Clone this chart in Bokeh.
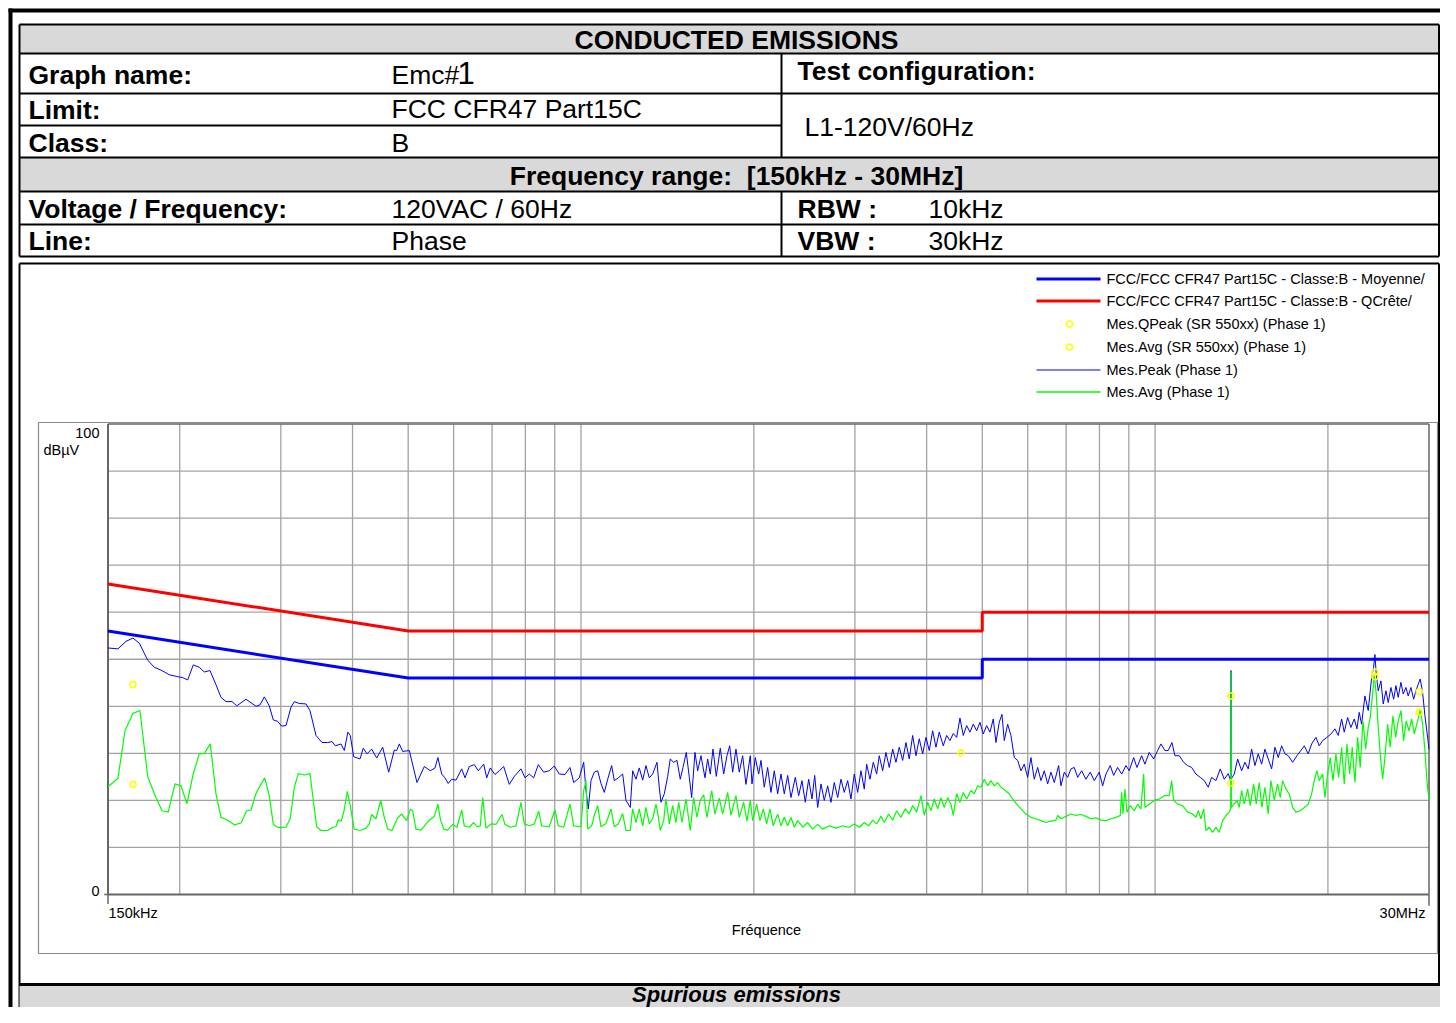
import math
from bokeh.plotting import figure
from bokeh.models import Range1d, LogScale
from bokeh.core.properties import value
from bokeh.embed import file_html
from bokeh.resources import INLINE

# ------------------------------------------------------------------ data
f_min, f_max = 0.15, 30.0          # MHz
db_min, db_max = 0, 100            # dBuV
grid_freq = [0.2, 0.3, 0.4, 0.5, 0.6, 0.7, 0.8, 0.9, 1, 2, 3, 4, 5, 6, 7, 8, 9, 10, 20]
grid_level = [10, 20, 30, 40, 50, 60, 70, 80, 90]

limit_freq = [0.15, 0.5, 5.0, 5.0, 30.0]
limit_qpeak = [66, 56, 56, 60, 60]
limit_avg = [56, 46, 46, 50, 50]

peak_freq = [
    0.1500, 0.1561, 0.1612, 0.1658, 0.1701, 0.1759, 0.1806, 0.1855, 0.1918, 0.1984,
    0.2024, 0.2065, 0.2112, 0.2163, 0.2207, 0.2258, 0.2313, 0.2360, 0.2408, 0.2467,
    0.2514, 0.2609, 0.2716, 0.2760, 0.2808, 0.2864, 0.2911, 0.2962, 0.3010, 0.3063,
    0.3125, 0.3167, 0.3231, 0.3319, 0.3372, 0.3455, 0.3539, 0.3621, 0.3684, 0.3733,
    0.3819, 0.3870, 0.3926, 0.3964, 0.4018, 0.4121, 0.4176, 0.4239, 0.4319, 0.4407,
    0.4514, 0.4624, 0.4729, 0.4775, 0.4825, 0.4891, 0.5022, 0.5180, 0.5334,
    0.5464, 0.5568, 0.5633, 0.5719, 0.5795, 0.5870, 0.5953, 0.6057, 0.6197, 0.6280,
    0.6389, 0.6518, 0.6624, 0.6769, 0.6851, 0.6950, 0.7082, 0.7205, 0.7334, 0.7500,
    0.7653, 0.7861, 0.7988, 0.8127, 0.8271, 0.8426, 0.8610, 0.8805, 0.8984, 0.9166,
    0.9378, 0.9568, 0.9711, 0.9931, 1.0108, 1.0202, 1.0296, 1.0409, 1.0548, 1.0692,
    1.0834, 1.0980, 1.1130, 1.1309, 1.1429, 1.1613, 1.1819, 1.1977, 1.2185, 1.2303,
    1.2467, 1.2633, 1.2807, 1.2977, 1.3150, 1.3331, 1.3563, 1.3688, 1.3782, 1.3967,
    1.4158, 1.4306, 1.4502, 1.4695, 1.4891, 1.5053, 1.5255, 1.5439, 1.5587, 1.5796,
    1.5968, 1.6180, 1.6442, 1.6621, 1.6796, 1.6978, 1.7205, 1.7483, 1.7722, 1.7959,
    1.8154, 1.8374, 1.8618, 1.8866, 1.9125, 1.9380, 1.9718,
    1.9853, 2.0117, 2.0393, 2.0582, 2.0857, 2.1140, 2.1425, 2.1711, 2.2008, 2.2301,
    2.2600, 2.2909, 2.3214, 2.3618, 2.3942, 2.4261, 2.4584, 2.4922, 2.5254, 2.5529,
    2.5838, 2.6182, 2.6532, 2.6895, 2.7253, 2.7618, 2.7996, 2.8368, 2.8748, 2.9141,
    2.9529, 2.9924, 3.0334, 3.0738, 3.1149, 3.1449, 3.1867, 3.2293, 3.2736, 3.3078,
    3.3532, 3.3980, 3.4431, 3.4904, 3.5370, 3.5841, 3.6333, 3.6818, 3.7307, 3.7820,
    3.8324, 3.8834, 3.9367, 3.9892, 4.0423, 4.0978, 4.1525, 4.2078, 4.2759, 4.3346,
    4.3923, 4.4509, 4.5120, 4.5720, 4.6330, 4.6966, 4.7591, 4.8226, 4.8889, 4.9538,
    5.0197, 5.0890, 5.1565, 5.2254, 5.2823, 5.3525, 5.4108, 5.4613, 5.5360, 5.6097,
    5.6847, 5.7625, 5.8392, 5.9173, 5.9983, 6.0782, 6.1595, 6.2437, 6.3269, 6.4115,
    6.4992, 6.5857, 6.6739, 6.7923, 6.8552, 6.9470, 7.0420, 7.1358,
    7.2313, 7.3302, 7.4485, 7.5783, 7.7104, 7.8352, 7.9933, 8.1030, 8.2111, 8.3542,
    8.4684, 8.6057, 8.7444, 8.8970, 9.0153, 9.1760, 9.2983, 9.4747, 9.6014, 9.7682,
    9.9423, 10.103, 10.238, 10.403, 10.542, 10.699, 10.829, 11.017, 11.213, 11.395,
    11.579, 11.780, 11.986, 12.180, 12.376, 12.546, 12.764, 12.987, 13.197, 13.410,
    13.54, 13.56, 13.58, 13.737, 13.925, 14.150, 14.339, 14.530, 14.729, 14.926, 15.124,
    15.331, 15.536, 15.743, 15.959, 16.172, 16.387, 16.612, 16.834, 17.058, 17.362,
    17.664, 17.949, 18.190, 18.483, 18.736, 19.062, 19.316, 19.581, 19.922, 20.244,
    20.572, 20.846, 21.131, 21.355, 21.647, 21.935, 22.229, 22.469, 22.677, 22.896,
    23.202, 23.511, 23.833, 24.025, 24.152, 24.278, 24.473, 24.739, 24.970, 25.241,
    25.475, 25.752, 26.033, 26.274, 26.517, 26.806, 27.055, 27.349, 27.602, 27.903,
    28.206, 28.468, 28.731, 28.963, 29.242, 29.514, 29.836, 30.0,
]
peak_level = [
    52.4, 52.2, 53.8, 54.5, 53.4, 49.8, 48.3, 47.7, 46.7, 46.3,
    46.1, 45.6, 48.8, 48.3, 47.3, 47.6, 44.6, 41.9, 41.0, 41.0,
    40.1, 41.5, 40.0, 40.3, 42.0, 40.1, 37.1, 36.8, 35.8, 35.9,
    39.8, 41.0, 40.6, 40.5, 39.1, 33.8, 32.3, 32.3, 32.5, 31.6,
    32.0, 30.6, 34.5, 33.8, 29.3, 28.8, 31.1, 29.9, 30.9, 29.0,
    31.3, 26.0, 30.7, 30.6, 32.0, 30.4, 30.6, 23.8, 27.2,
    26.3, 26.9, 29.1, 25.6, 24.8, 23.6, 24.5, 24.3, 26.7, 24.8,
    27.2, 27.6, 26.3, 27.7, 24.8, 26.9, 25.5, 26.3, 27.2, 23.4,
    25.1, 26.7, 24.8, 25.6, 24.8, 27.6, 26.0, 26.3, 27.3, 25.6,
    25.5, 27.0, 23.8, 24.8, 28.1, 22.1, 18.2, 24.2, 26.0, 26.3,
    23.6, 21.7, 24.5, 27.4, 24.2, 24.8, 25.6, 20.0, 18.5, 26.3,
    24.5, 26.9, 24.3, 27.4, 24.8, 25.6, 28.1, 22.8, 19.6, 21.4,
    25.1, 28.8, 28.1, 28.5, 24.5, 27.0, 30.2, 24.9, 20.6, 30.2,
    26.3, 29.5, 24.8, 28.8, 25.6, 30.9, 25.1, 31.1, 25.6, 29.5,
    31.6, 26.0, 30.9, 26.0, 29.5, 23.4, 29.5,
    23.5, 29.1, 25.6, 28.5, 22.8, 27.0, 21.7, 26.3, 21.4, 25.6,
    21.4, 25.3, 20.6, 24.9, 21.0, 24.2, 19.6, 24.5, 20.3, 25.3,
    18.5, 23.5, 20.0, 23.1, 19.6, 23.8, 20.6, 24.5, 21.7, 24.2,
    20.3, 25.6, 21.7, 26.3, 22.4, 27.7, 24.5, 28.1, 25.6, 29.5,
    26.3, 30.2, 27.0, 30.9, 28.1, 31.3, 28.5, 32.3, 28.8, 33.8,
    29.5, 33.1, 29.9, 33.4, 30.6, 34.8, 31.3, 34.5, 31.6, 33.8,
    32.7, 34.2, 33.4, 37.5, 33.8, 35.9, 34.5, 36.2, 34.8, 36.6,
    34.1, 35.9, 34.5, 37.3, 32.3, 36.6, 38.3, 32.7, 36.2, 33.8,
    29.1, 28.5, 26.3, 27.7, 24.9, 29.1, 24.5, 27.0, 24.2, 26.3,
    23.5, 26.0, 23.8, 27.4, 23.1, 26.0, 24.9, 26.7,
    27.0, 24.9, 26.3, 24.5, 26.0, 24.2, 26.0, 23.1, 25.6, 27.4,
    25.3, 27.0, 25.6, 27.4, 26.3, 29.1, 27.0, 29.5, 27.7, 30.2,
    28.8, 30.6, 32.0, 30.6, 30.6, 32.3, 29.5, 29.5, 28.1, 27.4,
    27.0, 25.6, 24.9, 24.2, 22.8, 24.9, 24.2, 26.7, 24.5, 25.7,
    24.2, 47.6, 24.6, 25.6, 28.8, 26.3, 28.1, 26.7, 30.9, 27.4, 29.9,
    27.7, 30.9, 28.8, 26.7, 31.3, 29.1, 31.6, 29.9, 29.5, 28.1,
    29.5, 30.6, 31.6, 29.9, 32.0, 33.4, 31.6, 32.7, 33.4, 34.1,
    35.2, 33.8, 37.3, 34.5, 37.6, 35.5, 37.3, 35.2, 38.7, 36.2,
    42.2, 39.1, 46.1, 48.3, 51.0, 46.8, 43.3, 45.4, 40.5, 43.3,
    40.8, 44.0, 41.5, 44.4, 41.9, 45.1, 42.6, 44.0, 42.2, 44.0,
    41.5, 43.3, 44.7, 45.8, 42.9, 38.0, 33.4, 30.9,
]

avg_freq = [
    0.1500, 0.1561, 0.1606, 0.1658, 0.1705, 0.1759, 0.1806, 0.1863, 0.1910, 0.1962,
    0.2010, 0.2059, 0.2112, 0.2163, 0.2207, 0.2261, 0.2313, 0.2360, 0.2415, 0.2490,
    0.2557, 0.2616, 0.2662, 0.2716, 0.2812, 0.2864, 0.2911, 0.2975, 0.3063, 0.3116,
    0.3167, 0.3218, 0.3296, 0.3372, 0.3464, 0.3525, 0.3621, 0.3694, 0.3743, 0.3778,
    0.3823, 0.3865, 0.3917, 0.3959, 0.4028, 0.4121, 0.4222, 0.4278, 0.4319, 0.4394,
    0.4478, 0.4543, 0.4606, 0.4686, 0.4794, 0.4871, 0.4970, 0.5043, 0.5091, 0.5159,
    0.5264, 0.5370, 0.5479, 0.5552, 0.5633, 0.5687, 0.5765, 0.5859, 0.5977, 0.6081,
    0.6197, 0.6262, 0.6389, 0.6502, 0.6589, 0.6677, 0.6741, 0.6831, 0.6970, 0.7111,
    0.7284, 0.7372, 0.7531, 0.7705, 0.7861, 0.7966, 0.8127, 0.8292, 0.8439, 0.8541,
    0.8805, 0.9009, 0.9129, 0.9329, 0.9568, 0.9711, 1.0000, 1.0108, 1.0202, 1.0272,
    1.0437, 1.0548, 1.0692, 1.0834, 1.1054, 1.1278, 1.1429, 1.1613, 1.1819, 1.1977,
    1.2185, 1.2303, 1.2467, 1.2633, 1.2807, 1.2977, 1.3150, 1.3331, 1.3509, 1.3634,
    1.3743, 1.3932, 1.4061, 1.4249, 1.4444, 1.4636, 1.4796, 1.4993, 1.5235, 1.5501,
    1.5713, 1.5923, 1.6134, 1.6357, 1.6574, 1.6889, 1.7115, 1.7412, 1.7651, 1.8009,
    1.8249, 1.8618, 1.8866, 1.9203, 1.9458, 1.9718, 1.9908, 2.0231, 2.0500, 2.0774,
    2.1058, 2.1339, 2.1623, 2.2008, 2.2301, 2.2600, 2.2909, 2.3214, 2.3524, 2.3845,
    2.4330, 2.4822, 2.5324, 2.5838, 2.6361, 2.7068, 2.7805, 2.8562, 2.9328, 2.9924,
    3.0529, 3.1149, 3.1702, 3.2214, 3.2736, 3.3305, 3.3750, 3.4349, 3.4904, 3.5470,
    3.6086, 3.6714, 3.7307, 3.7820, 3.8432, 3.9100, 3.9623, 4.0165, 4.0700, 4.1245,
    4.1809, 4.2366, 4.2932, 4.3520, 4.4099, 4.4509, 4.5120, 4.5720, 4.6330, 4.6966,
    4.7782, 4.8422, 4.9084, 4.9737, 5.0403, 5.1092, 5.1773, 5.2465, 5.3183, 5.3891,
    5.4828, 5.5715, 5.6479, 5.7394, 5.8392, 5.9576, 6.0782, 6.2013, 6.3269, 6.4550,
    6.5857, 6.7192, 6.7654, 6.8552, 6.9942, 7.1358, 7.2804, 7.4278, 7.5783, 7.7318,
    7.8884, 8.0481, 8.2111, 8.3775, 8.5473, 8.6957, 8.7444, 8.7905, 8.8615, 8.9327,
    9.0520, 9.1986, 9.3244, 9.4487, 9.5513, 9.6014, 9.7682, 9.9668, 10.168, 10.375,
    10.584, 10.686, 10.772, 10.947, 11.168, 11.395, 11.625, 11.780, 11.890, 12.019,
    12.150, 12.263, 12.426, 12.596, 12.764, 12.934, 13.112, 13.287, 13.463, 13.54,
    13.56, 13.58, 13.886, 14.014, 14.150, 14.299, 14.495, 14.647, 14.848, 15.004,
    15.185, 15.350, 15.536, 15.743, 15.915, 16.127, 16.344, 16.520, 16.679, 16.902,
    17.126, 17.362, 17.593, 17.900, 18.190, 18.483, 18.736, 18.934, 19.139, 19.316,
    19.581, 19.763, 19.976, 20.188, 20.408, 20.654, 20.879, 21.131, 21.355, 21.586,
    21.820, 22.050, 22.290, 22.533, 22.769, 23.017, 23.267, 23.511, 23.700, 23.891,
    24.085, 24.278, 24.473, 24.671, 24.908, 25.140, 25.413, 25.681, 25.959, 26.242,
    26.517, 26.806, 27.098, 27.382, 27.680, 27.980, 28.276, 28.663, 28.963, 29.242,
    29.514, 29.752, 30.0,
]
avg_level = [
    22.9, 24.7, 34.8, 38.5, 39.1, 25.1, 21.4, 17.8, 17.5, 23.5,
    23.1, 19.3, 25.7, 29.9, 30.0, 32.0, 21.4, 16.4, 15.9, 14.8,
    15.2, 17.8, 18.0, 21.5, 24.8, 21.0, 14.9, 14.2, 14.3, 16.2,
    22.8, 25.7, 25.4, 25.7, 14.4, 13.6, 13.6, 14.3, 14.4, 15.9,
    15.6, 17.7, 21.9, 19.2, 13.9, 13.6, 14.1, 15.0, 17.0, 16.1,
    20.0, 16.4, 13.9, 13.6, 16.3, 17.1, 15.7, 18.1, 17.8, 13.9,
    13.7, 15.0, 16.1, 16.6, 19.2, 16.1, 13.9, 13.7, 14.9, 14.3,
    18.0, 14.6, 14.3, 15.3, 14.4, 14.6, 20.6, 14.1, 15.0, 14.9,
    17.0, 14.9, 14.3, 14.6, 19.6, 15.0, 14.6, 15.0, 17.7, 14.6,
    14.4, 18.0, 14.6, 14.3, 19.2, 14.6, 14.4, 22.1, 24.2, 13.9,
    14.6, 16.8, 18.9, 14.4, 15.1, 18.2, 14.4, 15.0, 17.2, 13.6,
    13.6, 18.2, 15.3, 18.2, 14.6, 18.5, 15.0, 16.1, 19.2, 16.6,
    13.6, 15.7, 20.3, 15.0, 18.9, 15.3, 19.6, 15.3, 20.3, 13.6,
    20.6, 16.4, 20.0, 21.2, 16.4, 22.1, 17.1, 20.5, 17.1, 21.7,
    16.8, 21.0, 16.4, 19.6, 15.6, 20.0, 15.7, 19.2, 15.7, 18.2,
    15.0, 18.2, 14.6, 17.1, 14.6, 16.4, 14.6, 16.4, 14.3, 15.7,
    14.3, 15.3, 13.9, 14.9, 13.9, 14.6, 14.1, 14.6, 14.3, 15.0,
    14.3, 15.3, 14.6, 15.8, 15.0, 16.6, 15.3, 17.1, 15.8, 17.8,
    16.4, 18.2, 17.1, 18.9, 17.5, 21.0, 16.8, 19.6, 17.8, 20.3,
    18.2, 20.6, 18.5, 20.6, 19.2, 16.8, 21.4, 19.6, 21.7, 20.3,
    22.1, 21.4, 23.1, 22.8, 24.5, 23.1, 24.2, 23.1, 23.8, 22.8,
    22.1, 21.4, 20.3, 19.2, 18.2, 17.1, 16.4, 16.1, 15.7, 15.3,
    15.6, 15.8, 16.8, 16.1, 16.6, 17.1, 16.8, 17.0, 16.6, 16.1,
    16.3, 15.8, 15.7, 16.1, 16.4, 16.8, 21.7, 17.1, 22.4, 17.5,
    18.9, 17.8, 19.2, 18.2, 25.6, 18.5, 19.2, 20.0, 20.3, 21.0,
    21.0, 24.2, 20.0, 19.2, 18.9, 17.5, 17.1, 16.4, 17.8, 16.1,
    18.2, 13.6, 14.3, 13.2, 14.3, 13.2, 15.7, 16.8, 17.5, 18.2,
    47.4, 18.5, 20.0, 18.5, 22.1, 19.2, 22.4, 18.9, 23.5, 19.2,
    23.8, 18.5, 22.8, 17.1, 24.2, 20.0, 23.5, 20.6, 24.2, 22.4,
    21.4, 18.5, 17.5, 17.8, 18.5, 19.2, 21.4, 24.2, 26.3, 24.2,
    25.6, 20.6, 25.6, 29.1, 24.2, 29.9, 24.9, 31.3, 23.5, 32.0,
    25.6, 31.3, 23.8, 33.4, 27.0, 36.9, 30.9, 35.5, 37.6, 41.9,
    46.8, 42.6, 35.5, 29.9, 24.5, 29.1, 36.2, 31.3, 38.0, 33.4,
    36.9, 39.1, 32.7, 36.9, 34.8, 37.3, 34.1, 36.9, 39.4, 36.2,
    30.6, 24.2, 20.0,
]

qpeak_freq = [0.1658, 4.590, 13.56, 24.15, 28.85]
qpeak_level = [44.6, 30.1, 42.2, 47.3, 43.1]
mavg_freq = [0.1658, 13.56, 24.15, 28.85]
mavg_level = [23.4, 23.7, 46.3, 38.7]

legend_labels = [
    "FCC/FCC CFR47 Part15C - Classe:B - Moyenne/",
    "FCC/FCC CFR47 Part15C - Classe:B - QCrête/",
    "Mes.QPeak (SR 550xx) (Phase 1)",
    "Mes.Avg (SR 550xx) (Phase 1)",
    "Mes.Peak (Phase 1)",
    "Mes.Avg (Phase 1)",
]

assert len(peak_freq) == len(peak_level), (len(peak_freq), len(peak_level))
assert len(avg_freq) == len(avg_level), (len(avg_freq), len(avg_level))

# ------------------------------------------------------------------ layout
W, H = 1440, 1007
PX_L, PX_R = 107.5, 1428.5         # chart frame, pixels
PY_T, PY_B = 423.5, 894.0
px_dec = (PX_R - PX_L) / math.log10(f_max / f_min)
px_db = (PY_B - PY_T) / (db_max - db_min)

FONT = value("Liberation Sans")
BLUE, RED, GREEN, YEL = "#0000ff", "#ff0000", "#00ff00", "#ffff00"

p = figure(width=W, height=H, output_backend="svg", toolbar_location=None,
           x_range=Range1d(0, W), y_range=Range1d(H, 0),
           x_axis_location=None, y_axis_location=None, min_border=0, title=None)
p.extra_x_ranges = {"f": Range1d(f_min * 10 ** ((0 - PX_L) / px_dec),
                                 f_min * 10 ** ((W - PX_L) / px_dec))}
p.extra_x_scales = {"f": LogScale()}
p.extra_y_ranges = {"db": Range1d((PY_B - H) / px_db, PY_B / px_db)}
p.outline_line_color = None
p.grid.visible = False
p.background_fill_color = "white"
p.border_fill_color = "white"

CH = dict(x_range_name="f", y_range_name="db")


def box(l, r, t, b, color):
    p.quad(left=[l], right=[r], top=[t], bottom=[b], fill_color=color, line_color=None)


def seg(x0, y0, x1, y1, color="black", w=2.0):
    p.segment(x0=[x0], y0=[y0], x1=[x1], y1=[y1], line_color=color, line_width=w)


def txt(s, x, y, size, style="normal", align="left", color="black"):
    p.text(x=[x], y=[y], text=[s], text_font=FONT, text_font_size=size,
           text_font_style=style, text_align=align, text_baseline="middle",
           text_color=color)


# ---- outer frame
seg(8, 10, W, 10, "black", 4)
seg(10, 8, 10, H, "black", 4)

# ---- header table
TL, TR, CM = 19, 1438.5, 781
GRAY = "#d9d9d9"
box(TL, TR, 24, 53, GRAY)
box(TL, TR, 157, 191, GRAY)
for yy in (24, 53, 93, 157, 191, 224, 256):
    seg(TL, yy, TR, yy)
seg(TL, 125, CM, 125)
seg(TL, 24, TL, 256)
seg(TR, 24, TR, 256)
seg(CM, 53, CM, 157)
seg(CM, 191, CM, 256)

TS = "26.5px"
txt("CONDUCTED EMISSIONS", 736, 39, TS, "bold", "center")
txt("Graph name:", 28, 74, TS, "bold")
txt("Emc#", 391, 74, TS)
txt("1", 457, 72, "31px")
txt("Limit:", 28, 109, TS, "bold")
txt("FCC CFR47 Part15C", 391, 108, TS)
txt("Class:", 28, 142, TS, "bold")
txt("B", 391, 142, TS)
txt("Test configuration:", 797, 70, TS, "bold")
txt("L1-120V/60Hz", 804, 126, TS)
txt("Frequency range:\u00a0 [150kHz - 30MHz]", 736, 175, TS, "bold", "center")
txt("Voltage / Frequency:", 28, 208, TS, "bold")
txt("120VAC / 60Hz", 391, 208, TS)
txt("RBW :", 797, 208, TS, "bold")
txt("10kHz", 928, 208, TS)
txt("Line:", 28, 240, TS, "bold")
txt("Phase", 391, 240, TS)
txt("VBW :", 797, 240, TS, "bold")
txt("30kHz", 928, 240, TS)

# ---- chart panel and bottom row
SP = 984
seg(TL, 263, TR, 263)
seg(TL, 263, TL, H)
seg(TR, 263, TR, SP)
box(TL, W, SP + 1, H, GRAY)
seg(TL, SP, W, SP, "black", 3)
txt("Spurious emissions", 736, 994, "22px", "bold italic", "center")

# inner chart box
IB = "#8a8a8a"
seg(38, 422, 1437, 422, IB, 1.2)
seg(38, 953, 1437, 953, IB, 1.2)
seg(38, 422, 38, 953, IB, 1.2)
seg(1437, 422, 1437, 953, IB, 1.2)

# ---- legend
LS = "14.5px"
leg_y = [278.5, 300.5, 323.5, 346.5, 369.5, 391.5]
seg(1036, leg_y[0], 1100, leg_y[0], BLUE, 3)
seg(1036, leg_y[1], 1100, leg_y[1], RED, 3)
p.scatter(x=[1069, 1069], y=[leg_y[2], leg_y[3]], marker="circle", size=6,
          fill_color=None, line_color=YEL, line_width=1.6)
seg(1036, leg_y[4], 1100, leg_y[4], BLUE, 1.2)
seg(1036, leg_y[5], 1100, leg_y[5], GREEN, 1.4)
for lab, yy in zip(legend_labels, leg_y):
    txt(lab, 1106, yy, LS)

# ---- chart grid (through the log / dB scales)
GC = "#a3a3a3"
p.segment(x0=grid_freq, y0=[db_min] * len(grid_freq), x1=grid_freq,
          y1=[db_max] * len(grid_freq), line_color=GC, line_width=1.3, **CH)
p.segment(x0=[f_min] * len(grid_level), y0=grid_level, x1=[f_max] * len(grid_level),
          y1=grid_level, line_color=GC, line_width=1.3, **CH)

AX = "#666666"
p.segment(x0=[f_min, f_min, f_max, f_min], y0=[db_min, db_min, db_min, db_max],
          x1=[f_min, f_max, f_max, f_max], y1=[db_max, db_min, db_max, db_max],
          line_color=AX, line_width=[2, 2, 1.5, 1.5], **CH)
# small ticks at the axis ends
p.segment(x0=[f_min, f_max], y0=[db_min, db_min], x1=[f_min, f_max], y1=[-2.0, -2.4],
          line_color=AX, line_width=1.5, **CH)
p.segment(x0=[f_min * 0.985], y0=[db_min], x1=[f_min], y1=[db_min],
          line_color=AX, line_width=1.5, **CH)

# limits
p.line(limit_freq, limit_avg, line_color=BLUE, line_width=3, **CH)
p.line(limit_freq, limit_qpeak, line_color=RED, line_width=3, **CH)
# measured traces
p.line(peak_freq, peak_level, line_color=BLUE, line_width=1, **CH)
p.line(avg_freq, avg_level, line_color=GREEN, line_width=1.2, **CH)
# final measurements
p.scatter(qpeak_freq, qpeak_level, marker="circle", size=6, fill_color=None,
          line_color=YEL, line_width=1.6, **CH)
p.scatter(mavg_freq, mavg_level, marker="circle", size=6, fill_color=None,
          line_color=YEL, line_width=1.6, **CH)

# axis texts
AS = "14.5px"
txt("100", 99, 432, AS, align="right")
txt("dBµV", 43, 449, AS)
txt("0", 99, 890, AS, align="right")
txt("150kHz", 108, 912, AS)
txt("30MHz", 1425, 912, AS, align="right")
txt("Fréquence", 766, 929, AS, align="center")

open("out.html", "w").write(file_html(p, INLINE))
